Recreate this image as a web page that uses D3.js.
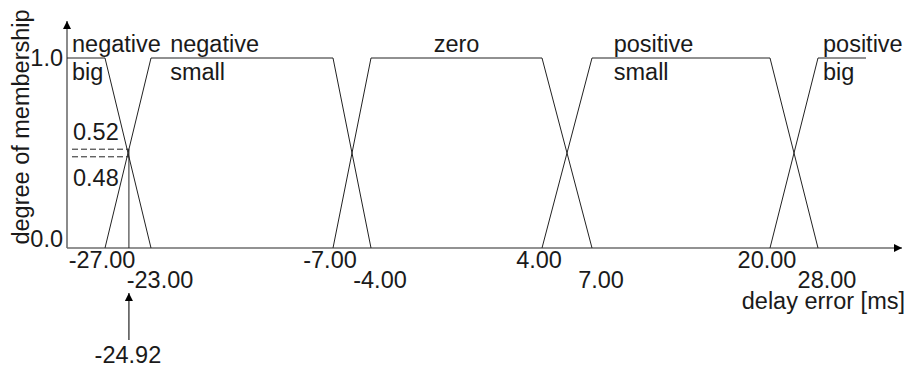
<!DOCTYPE html>
<html>
<head>
<meta charset="utf-8">
<script src="https://cdn.jsdelivr.net/npm/d3@7"></script>
<style>
  body { margin: 0; background: #fff; }
  text { font-family: "Liberation Sans", Arial, sans-serif; font-size: 23.5px; fill: #1a1a1a; }
</style>
</head>
<body>
<svg width="910" height="369"></svg>
<script>
// breakpoints of the delay error universe [ms]
var breakpoints = [-30, -27, -23, -7, -4, 4, 7, 20, 28, 30];
var tickValues = [-27, -23, -7, -4, 4, 7, 20, 28];
var tickLabels = ["-27.00", "-23.00", "-7.00", "-4.00", "4.00", "7.00", "20.00", "28.00"];

// fuzzy sets: name lines and (x, membership) corner points
var setNames = [["negative", "big"], ["negative", "small"], ["zero"], ["positive", "small"], ["positive", "big"]];
var setPoints = [
  [[-30, 1], [-27, 1], [-23, 0]],
  [[-27, 0], [-23, 1], [-7, 1], [-4, 0]],
  [[-7, 0], [-4, 1], [4, 1], [7, 0]],
  [[4, 0], [7, 1], [20, 1], [28, 0]],
  [[20, 0], [28, 1], [30, 1]]
];

var yTicks = [0, 1];
var yTickLabels = ["0.0", "1.0"];

// example input and its memberships
var inputValue = -24.92;
var inputMemberships = [0.52, 0.48];

var svg = d3.select("svg");

// the axis is drawn schematically, so the scale is piecewise linear
var x = d3.scaleLinear()
    .domain(breakpoints)
    .range([67, 105, 151, 333, 371, 542, 592, 770, 818, 866]);
var y = d3.scaleLinear().domain([0, 1]).range([248, 58]);

var axisColor = "#6e6e6e";

svg.append("defs").append("marker")
    .attr("id", "arrow")
    .attr("viewBox", "0 0 10 10")
    .attr("refX", 10).attr("refY", 5)
    .attr("markerWidth", 11).attr("markerHeight", 8)
    .attr("markerUnits", "userSpaceOnUse")
    .attr("orient", "auto")
  .append("path")
    .attr("d", "M0,0L10,5L0,10Z")
    .attr("fill", "#000");

// axes
svg.append("line")
    .attr("x1", x(-30)).attr("y1", y(0))
    .attr("x2", 902).attr("y2", y(0))
    .attr("stroke", axisColor).attr("stroke-width", 1.6)
    .attr("marker-end", "url(#arrow)");
svg.append("line")
    .attr("x1", x(-30)).attr("y1", y(0))
    .attr("x2", x(-30)).attr("y2", 21)
    .attr("stroke", axisColor).attr("stroke-width", 1.6)
    .attr("marker-end", "url(#arrow)");

// membership functions
var line = d3.line()
    .x(function(d) { return x(d[0]); })
    .y(function(d) { return y(d[1]); });

svg.selectAll(".mf")
    .data(setPoints)
    .enter().append("path")
    .attr("class", "mf")
    .attr("d", line)
    .attr("fill", "none")
    .attr("stroke", "#222")
    .attr("stroke-width", 1);

// set names, centered over the plateau but kept inside it
svg.selectAll(".setname")
    .data(setNames)
    .enter().append("text")
    .attr("class", "setname")
    .each(function(d, i) {
      var t = d3.select(this);
      d.forEach(function(s, j) {
        t.append("tspan").attr("y", 52 + j * 28).text(s);
      });
      var w = this.getBBox().width;
      var top = setPoints[i].filter(function(p) { return p[1] === 1; });
      var x0 = x(top[0][0]), x1 = x(top[top.length - 1][0]);
      var left = Math.max((x0 + x1) / 2 - w / 2, x0 + 5);
      t.selectAll("tspan").attr("x", left);
    });

// x tick labels in two staggered rows
svg.selectAll(".xtick")
    .data(tickValues)
    .enter().append("text")
    .attr("class", "xtick")
    .attr("text-anchor", "middle")
    .attr("x", function(d, i) { return x(d) + (i % 2 ? 9 : -3); })
    .attr("y", function(d, i) { return i % 2 ? 288 : 268; })
    .text(function(d, i) { return tickLabels[i]; });

// y tick labels
svg.selectAll(".ytick")
    .data(yTicks)
    .enter().append("text")
    .attr("class", "ytick")
    .attr("text-anchor", "end")
    .attr("x", 63)
    .attr("y", function(d) { return y(d) + (d === 1 ? 8 : -1); })
    .text(function(d, i) { return yTickLabels[i]; });

// axis titles
svg.append("text")
    .attr("text-anchor", "middle")
    .attr("transform", "translate(29," + 127 + ") rotate(-90)")
    .text("degree of membership");
svg.append("text")
    .attr("text-anchor", "end")
    .attr("x", 905).attr("y", 309)
    .text("delay error [ms]");

// example input: vertical line, membership levels and arrow
var xi = x(inputValue);
svg.append("line")
    .attr("x1", xi).attr("y1", y(0))
    .attr("x2", xi).attr("y2", y(d3.max(inputMemberships)))
    .attr("stroke", "#222").attr("stroke-width", 1);

svg.selectAll(".level")
    .data(inputMemberships)
    .enter().append("line")
    .attr("class", "level")
    .attr("x1", 72).attr("x2", xi)
    .attr("y1", function(d) { return y(d); })
    .attr("y2", function(d) { return y(d); })
    .attr("stroke", "#222").attr("stroke-width", 1)
    .attr("stroke-dasharray", "6,3");

svg.selectAll(".levellabel")
    .data(inputMemberships)
    .enter().append("text")
    .attr("class", "levellabel")
    .attr("x", 73)
    .attr("y", function(d, i) { return i === 0 ? y(d) - 9 : y(d) + 29; })
    .text(function(d) { return d.toFixed(2); });

svg.append("line")
    .attr("x1", xi).attr("y1", 340)
    .attr("x2", xi).attr("y2", 293)
    .attr("stroke", "#222").attr("stroke-width", 1.2)
    .attr("marker-end", "url(#arrow)");

svg.append("text")
    .attr("text-anchor", "middle")
    .attr("x", xi - 1).attr("y", 363)
    .text(inputValue.toFixed(2));
</script>
</body>
</html>
